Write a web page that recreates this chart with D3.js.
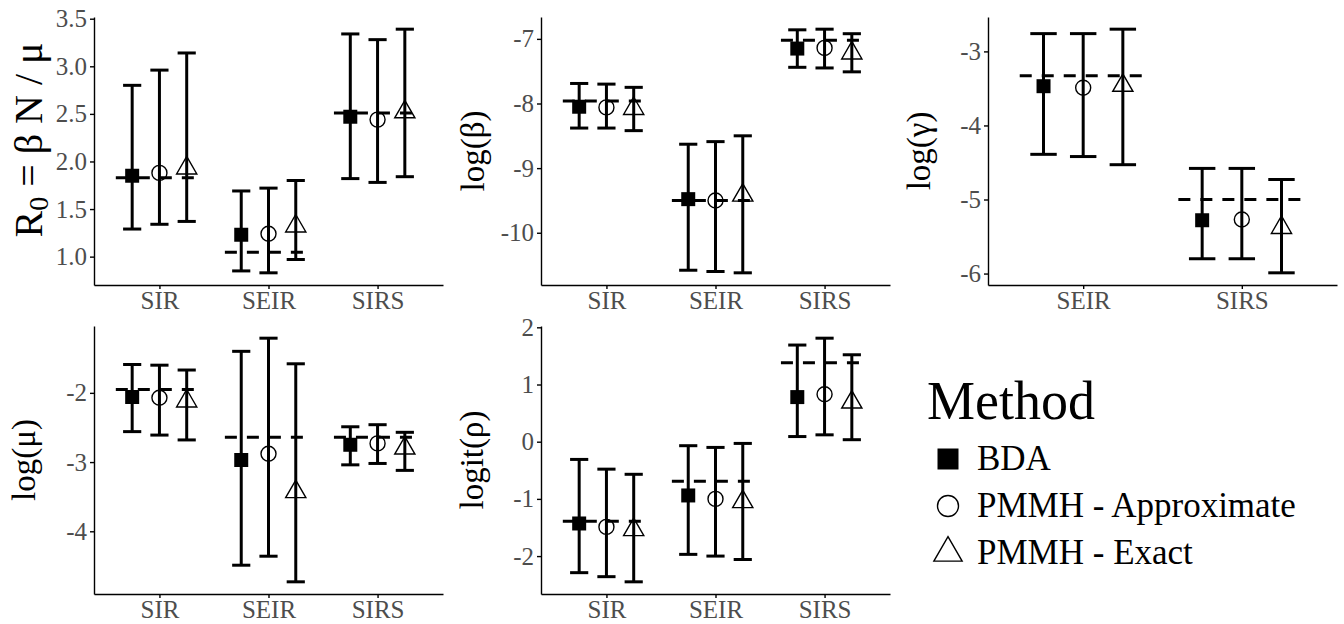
<!DOCTYPE html>
<html>
<head>
<meta charset="utf-8">
<script src="https://d3js.org/d3.v7.min.js"></script>
<style>
  body { margin: 0; background: #fff; }
  svg { font-family: "Liberation Serif", "DejaVu Serif", serif; }
  .tick text { fill: #4d4d4d; }
  .axis path, .axis line { stroke: #000; }
</style>
</head>
<body>
<script>
// methods / models
var methods = ["BDA", "PMMH - Approximate", "PMMH - Exact"];
var models3 = ["SIR", "SEIR", "SIRS"];
var models2 = ["SEIR", "SIRS"];

// R0 = beta N / mu   (rows = model, cols = method)
var r0Truth = [1.83, 1.045, 2.51];
var r0Mid  = [[1.85, 1.88, 1.93], [1.23, 1.24, 1.32], [2.47, 2.44, 2.52]];
var r0Low  = [[1.29, 1.34, 1.37], [0.85, 0.83, 0.97], [1.82, 1.78, 1.84]];
var r0High = [[2.80, 2.96, 3.14], [1.69, 1.72, 1.80], [3.34, 3.28, 3.39]];

// log(beta)
var betaTruth = [-7.96, -9.50, -7.02];
var betaMid  = [[-8.05, -8.06, -8.08], [-9.48, -9.50, -9.42], [-7.15, -7.14, -7.22]];
var betaLow  = [[-8.38, -8.38, -8.42], [-10.58, -10.60, -10.62], [-7.44, -7.45, -7.51]];
var betaHigh = [[-7.69, -7.70, -7.75], [-8.63, -8.59, -8.50], [-6.86, -6.85, -6.92]];

// log(gamma)
var gammaTruth = [-3.33, -5.00];
var gammaMid  = [[-3.47, -3.49, -3.46], [-5.28, -5.27, -5.38]];
var gammaLow  = [[-4.39, -4.42, -4.53], [-5.80, -5.80, -5.99]];
var gammaHigh = [[-2.76, -2.76, -2.70], [-4.58, -4.58, -4.73]];

// log(mu)
var muTruth = [-1.95, -2.64, -2.64];
var muMid  = [[-2.06, -2.07, -2.12], [-2.97, -2.88, -3.43], [-2.75, -2.73, -2.80]];
var muLow  = [[-2.56, -2.61, -2.68], [-4.49, -4.36, -4.73], [-3.04, -3.02, -3.12]];
var muHigh = [[-1.59, -1.60, -1.67], [-1.40, -1.21, -1.58], [-2.49, -2.46, -2.57]];

// logit(rho)
var rhoTruth = [-1.39, -0.69, 1.38];
var rhoMid  = [[-1.43, -1.49, -1.54], [-0.94, -1.00, -1.05], [0.78, 0.83, 0.69]];
var rhoLow  = [[-2.29, -2.36, -2.45], [-1.97, -2.00, -2.06], [0.09, 0.12, 0.035]];
var rhoHigh = [[-0.31, -0.48, -0.57], [-0.07, -0.10, -0.03], [1.69, 1.81, 1.52]];

var r0Ticks = [1.0, 1.5, 2.0, 2.5, 3.0, 3.5];
var betaTicks = [-10, -9, -8, -7];
var gammaTicks = [-6, -5, -4, -3];
var muTicks = [-4, -3, -2];
var rhoTicks = [-2, -1, 0, 1, 2];

var svg = d3.select("body").append("svg")
    .attr("width", 1344)
    .attr("height", 624);

var panels = [
    { models: models3, truth: r0Truth, mid: r0Mid, low: r0Low, high: r0High, ticks: r0Ticks, fmt: function(d) { return d.toFixed(1); },
      x0: 94, x1: 443, y0: 17, y1: 285, title: "r0", tx: 42, ty: 140 },
    { models: models3, truth: betaTruth, mid: betaMid, low: betaLow, high: betaHigh, ticks: betaTicks, fmt: String,
      x0: 541, x1: 890, y0: 17, y1: 285, title: "log(β)", tx: 484, ty: 151 },
    { models: models2, truth: gammaTruth, mid: gammaMid, low: gammaLow, high: gammaHigh, ticks: gammaTicks, fmt: String,
      x0: 988, x1: 1337, y0: 17, y1: 285, title: "log(γ)", tx: 930, ty: 151 },
    { models: models3, truth: muTruth, mid: muMid, low: muLow, high: muHigh, ticks: muTicks, fmt: String,
      x0: 94, x1: 443, y0: 326, y1: 594, title: "log(μ)", tx: 35, ty: 460 },
    { models: models3, truth: rhoTruth, mid: rhoMid, low: rhoLow, high: rhoHigh, ticks: rhoTicks, fmt: String,
      x0: 541, x1: 890, y0: 326, y1: 594, title: "logit(ρ)", tx: 483, ty: 460 }
];

var dodge = [-0.25, 0, 0.25];
var symbolTypes = [d3.symbolSquare, d3.symbolCircle, d3.symbolTriangle];
var symbolSizes = [196, 177, 177];

function drawSymbol(g, i, x, y, size) {
    g.append("path")
        .attr("d", d3.symbol().type(symbolTypes[i]).size(size)())
        .attr("transform", "translate(" + x + "," + y + ")")
        .attr("fill", i == 0 ? "#000" : "none")
        .attr("stroke", i == 0 ? "none" : "#000")
        .attr("stroke-width", 1.4);
}

panels.forEach(function(p) {
    var g = svg.append("g");

    var all = [].concat(p.truth, d3.merge(p.low), d3.merge(p.high), d3.merge(p.mid));
    var ext = d3.extent(all);
    var pad = (ext[1] - ext[0]) * 0.05;

    var x = d3.scalePoint().domain(p.models).range([p.x0, p.x1]).padding(0.6);
    var y = d3.scaleLinear().domain([ext[0] - pad, ext[1] + pad]).range([p.y1, p.y0]);
    var step = x.step();

    // true values (dashed)
    p.models.forEach(function(m, k) {
        g.append("line")
            .attr("x1", x(m) - 0.4 * step)
            .attr("x2", x(m) + 0.4 * step)
            .attr("y1", y(p.truth[k]))
            .attr("y2", y(p.truth[k]))
            .attr("stroke", "#000")
            .attr("stroke-width", 3)
            .attr("stroke-dasharray", "12,10");
    });

    // error bars + points
    p.models.forEach(function(m, k) {
        methods.forEach(function(meth, i) {
            var cx = x(m) + dodge[i] * step;
            var hw = step / 12;
            var lo = y(p.low[k][i]), hi = y(p.high[k][i]);
            g.append("line").attr("x1", cx).attr("x2", cx).attr("y1", lo).attr("y2", hi)
                .attr("stroke", "#000").attr("stroke-width", 3);
            [lo, hi].forEach(function(yy) {
                g.append("line").attr("x1", cx - hw).attr("x2", cx + hw).attr("y1", yy).attr("y2", yy)
                    .attr("stroke", "#000").attr("stroke-width", 3);
            });
            drawSymbol(g, i, cx, y(p.mid[k][i]), symbolSizes[i]);
        });
    });

    var yAxis = g.append("g")
        .attr("class", "axis")
        .attr("transform", "translate(" + p.x0 + ",0)")
        .call(d3.axisLeft(y).tickValues(p.ticks).tickFormat(p.fmt).tickSize(4).tickSizeOuter(0).tickPadding(3));

    var xAxis = g.append("g")
        .attr("class", "axis")
        .attr("transform", "translate(0," + p.y1 + ")")
        .call(d3.axisBottom(x).tickSize(4).tickSizeOuter(0).tickPadding(2));

    g.selectAll(".axis")
        .attr("font-family", "Liberation Serif, DejaVu Serif, serif")
        .attr("font-size", 25);
    g.selectAll(".axis path").attr("stroke-width", 1.4);
    g.selectAll(".axis line").attr("stroke-width", 1.4);

    // y title
    var t = g.append("text")
        .attr("transform", "translate(" + p.tx + "," + p.ty + ") rotate(-90)")
        .attr("text-anchor", "middle")
        .attr("fill", "#000");
    if (p.title == "r0") {
        t.style("font-size", "40px");
        t.append("tspan").text("R");
        t.append("tspan").attr("baseline-shift", "-22%").style("font-size", "28px").text("0");
        t.append("tspan").text(" = β N / μ");
    } else {
        t.style("font-size", "33px").text(p.title);
    }
});

// legend
var legend = svg.append("g");
legend.append("text")
    .attr("x", 927).attr("y", 419)
    .style("font-size", "54px")
    .text("Method");
methods.forEach(function(m, i) {
    var cy = 459 + i * 47;
    drawSymbol(legend, i, 948, cy, [441, 346, 346][i]);
    legend.append("text")
        .attr("x", 977).attr("y", cy + 11)
        .style("font-size", "35px")
        .text(m);
});
</script>
</body>
</html>
